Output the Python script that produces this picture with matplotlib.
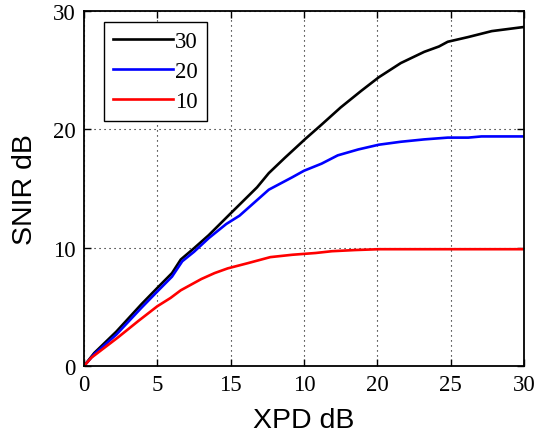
import matplotlib
matplotlib.use("Agg")
import matplotlib.pyplot as plt

# Data
x30 = [0, 0.7, 2.2, 3.9, 5.0, 6.0, 6.6, 7.5, 8.5, 10.0, 11.8, 12.6, 13.7, 15.1, 16.2,
       17.5, 18.9, 20.1, 21.6, 23.2, 24.2, 24.8, 26.2, 27.8, 30]
y30 = [0, 1.1, 2.9, 5.2, 6.6, 7.85, 9.0, 9.95, 11.05, 12.9, 15.1, 16.3, 17.6, 19.2, 20.4,
       21.85, 23.25, 24.4, 25.6, 26.55, 27.0, 27.4, 27.8, 28.3, 28.65]
x20 = [0, 0.7, 2.2, 3.9, 5.0, 6.0, 6.7, 7.5, 8.5, 9.7, 10.6, 12.6, 14.2, 15.0, 16.2,
       17.3, 18.7, 20.1, 21.6, 23.2, 24.8, 26.2, 27.1, 30]
y20 = [0, 1.0, 2.65, 4.9, 6.3, 7.55, 8.85, 9.65, 10.8, 12.0, 12.7, 14.9, 15.95, 16.5, 17.1,
       17.8, 18.3, 18.7, 18.95, 19.15, 19.3, 19.3, 19.4, 19.4]
x10 = [0, 0.5, 2.3, 3.7, 5.0, 5.9, 6.6, 8.0, 8.9, 9.8, 11.2, 12.7, 14.2, 15.8, 16.9,
       18.5, 20.1, 30]
y10 = [0, 0.7, 2.4, 3.8, 5.05, 5.75, 6.4, 7.35, 7.85, 8.25, 8.7, 9.2, 9.4, 9.55, 9.7,
       9.8, 9.87, 9.87]
series_labels = ["30", "20", "10"]
xtick_pos = [0, 5, 10, 15, 20, 25, 30]
xtick_labels = ["0", "5", "15", "10", "20", "25", "30"]
ytick_pos = [0, 10, 20, 30]
ytick_labels = ["0", "10", "20", "30"]

fig = plt.figure(figsize=(5.38, 4.35), dpi=100)
ax = fig.add_axes([84/538, 68/435, 440/538, 355/435])

ax.plot(x30, y30, color="black", lw=1.9, label=series_labels[0])
ax.plot(x20, y20, color="#0000ff", lw=1.9, label=series_labels[1])
ax.plot(x10, y10, color="#ff0000", lw=1.9, label=series_labels[2])

ax.set_xlim(0, 30)
ax.set_ylim(0, 30)
ax.set_xticks(xtick_pos)
ax.set_xticklabels(xtick_labels, family="Liberation Serif", fontsize=16.5)
ax.set_yticks(ytick_pos)
ax.set_yticklabels(ytick_labels, family="Liberation Serif", fontsize=16.5)
ax.tick_params(direction="in", length=5, width=1, top=True, right=True, pad=6)
ax.grid(True, color="black", linestyle=(0, (1, 3.5)), linewidth=0.8)
for s in ax.spines.values():
    s.set_linewidth(1.3)

ax.set_xlabel("XPD dB", family="Liberation Sans", fontsize=20.5, labelpad=8.5)
ax.set_ylabel("SNIR dB", family="Liberation Sans", fontsize=20.5, labelpad=11)

leg = ax.legend(loc="upper left", bbox_to_anchor=(20/440, 1 - 11/355), borderaxespad=0,
                prop={"family": "Liberation Serif", "size": 16.5}, handlelength=2.6,
                handletextpad=0.1, labelspacing=0.39, borderpad=0.4, fancybox=False,
                framealpha=1, edgecolor="black")
leg.get_frame().set_linewidth(1.0)

fig.savefig("out.png", dpi=100)
